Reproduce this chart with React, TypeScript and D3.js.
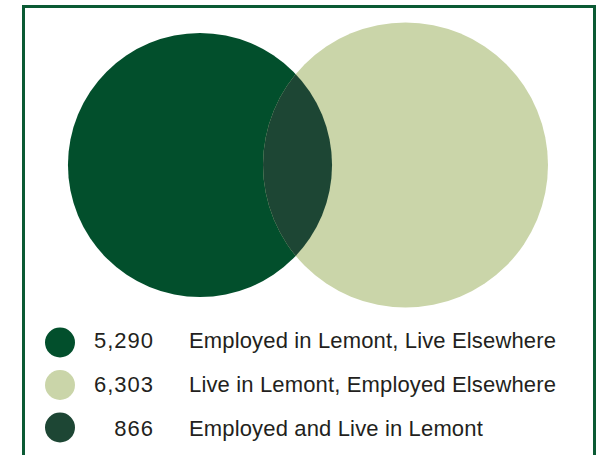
import React from "react";
import * as d3 from "d3";

const labels = [
  "Employed in Lemont, Live Elsewhere",
  "Live in Lemont, Employed Elsewhere",
  "Employed and Live in Lemont",
];
const values = [5290, 6303, 866];
const colors = ["#024f2c", "#cad5a9", "#1d4634"];

export default function App() {
  const W = 597, H = 455;
  const workTotal = values[0] + values[2];
  const liveTotal = values[1] + values[2];
  const r = d3.scaleSqrt().domain([0, liveTotal]).range([0, 142.5]);
  const r1 = r(workTotal);
  const r2 = r(liveTotal);
  const c1 = { x: 200, y: 165 };
  const c2 = { x: 405.5, y: 165 };
  const fmt = d3.format(",");
  const y = d3.scalePoint<number>().domain([0, 1, 2]).range([342.5, 427.5]);
  const ty = d3.scalePoint<number>().domain([0, 1, 2]).range([348, 436]);
  const font = "Liberation Sans, Arial, sans-serif";
  return (
    <svg width={W} height={H} style={{ position: "absolute", left: 0, top: 0 }}>
      <defs>
        <clipPath id="clipL">
          <circle cx={c1.x} cy={c1.y} r={r1} />
        </clipPath>
      </defs>
      <rect x={0} y={0} width={W} height={H} fill="#fff" />
      <rect x={23.5} y={6.5} width={571} height={470} fill="none" stroke="#0b5a34" strokeWidth={3} />
      <circle cx={c1.x} cy={c1.y} r={r1} fill={colors[0]} />
      <circle cx={c2.x} cy={c2.y} r={r2} fill={colors[1]} />
      <circle cx={c2.x} cy={c2.y} r={r2} fill={colors[2]} clipPath="url(#clipL)" />
      {labels.map((l, i) => (
        <g key={l}>
          <circle cx={60} cy={y(i)} r={15} fill={colors[i]} />
          <text x={154} y={ty(i)} textAnchor="end" fontFamily={font} fontSize={22} letterSpacing={1} fill="#231f20">
            {fmt(values[i])}
          </text>
          <text x={189} y={ty(i)} fontFamily={font} fontSize={22} letterSpacing={0.15} fill="#231f20">
            {l}
          </text>
        </g>
      ))}
    </svg>
  );
}
